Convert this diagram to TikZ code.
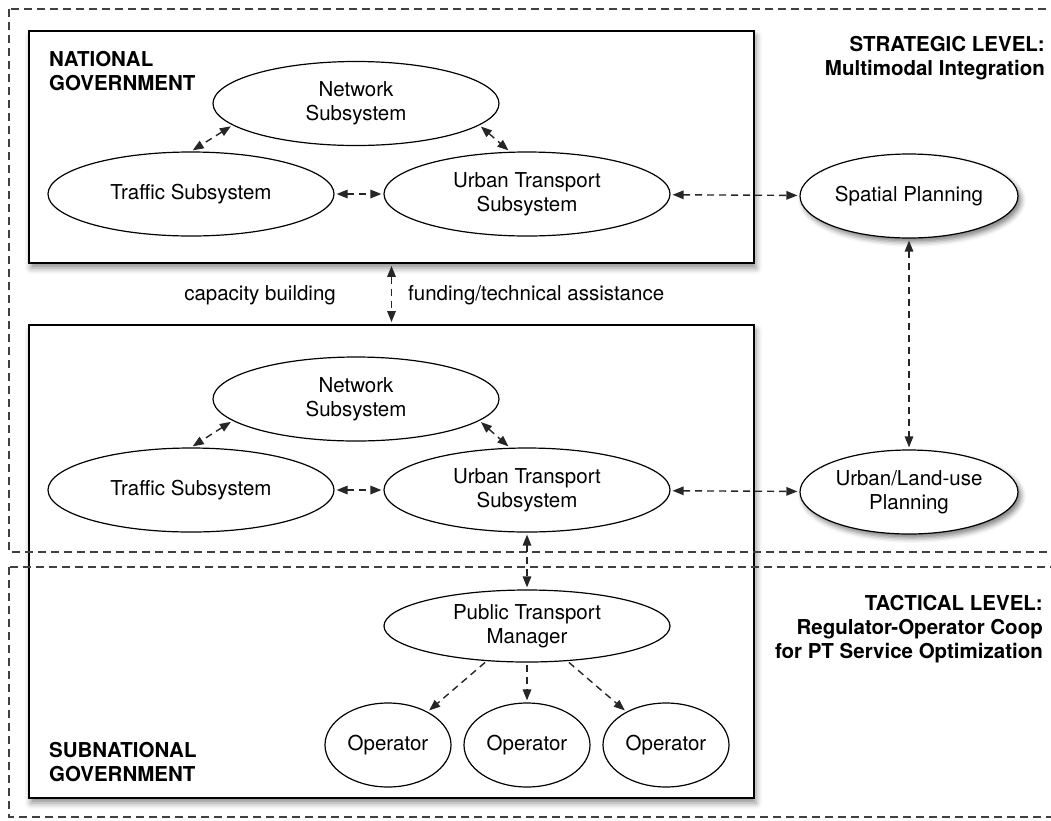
\documentclass[tikz,border=0pt]{standalone}
\usepackage{fontspec}
\setmainfont{TeX Gyre Heros}
\usetikzlibrary{arrows.meta,shapes.geometric,shadows.blur}

\newcommand{\diagsize}{\fontsize{20.5}{24}\selectfont}

\tikzset{
	govbox/.style={draw, line width=1.8pt, fill=white, inner sep=0pt,
		blur shadow={shadow xshift=2pt, shadow yshift=-5pt, shadow blur radius=6pt, shadow opacity=45}},
	levelframe/.style={draw=black!75, line width=1.4pt, dash pattern=on 8pt off 5pt},
	subsys/.style={ellipse, draw, line width=1.2pt, fill=white, inner sep=0pt,
		minimum width=286pt, minimum height=84pt, align=center},
	planning/.style={subsys, minimum width=218pt,
		blur shadow={shadow xshift=3pt, shadow yshift=-4pt, shadow blur radius=5pt, shadow opacity=50}},
	operator/.style={subsys, minimum width=126pt},
	manager/.style={subsys, minimum height=72pt},
	tag/.style={font=\diagsize\bfseries, inner sep=0pt},
	plain/.style={inner sep=0pt},
	link/.style={line width=1.4pt, draw=black!85, dash pattern=on 7pt off 5pt,
		shorten >=2pt, shorten <=2pt},
}

\begin{document}
\begin{tikzpicture}[x=1pt, y=-1pt, font=\diagsize, >={Triangle[length=11pt,width=8.5pt]}]
	\useasboundingbox (0,0) rectangle (1051,820);

	% Government boxes
	\node [govbox, minimum width=725pt, minimum height=232pt] (national)    at (391.5,147)   {};
	\node [govbox, minimum width=725pt, minimum height=473pt] (subnational) at (391.5,561.5) {};

	% Level frames
	\draw [levelframe] (9,9) rectangle (1070,552);
	\draw [levelframe] (9,567) rectangle (1070,817);

	% Nodes {national level}
	\node [subsys]                                   (nnetwork) at (356,103.5) {Network\\Subsystem};
	\node [subsys]                                   (ntraffic) at (191,194)   {Traffic Subsystem};
	\node [subsys, node distance=336pt, right of=ntraffic] (nurban)          {Urban Transport\\Subsystem};
	\node [planning]                                 (spatial)  at (909,196)   {Spatial Planning};

	% Nodes {subnational level}
	\node [subsys]                                   (snetwork) at (356,399)   {Network\\Subsystem};
	\node [subsys]                                   (straffic) at (191,490)   {Traffic Subsystem};
	\node [subsys, node distance=336pt, right of=straffic] (surban)          {Urban Transport\\Subsystem};
	\node [planning, node distance=296pt, below of=spatial] (landuse)        {Urban/Land-use\\Planning};
	\node [manager, node distance=136pt, below of=surban]   (ptman)          {Public Transport\\Manager};
	\node [operator, node distance=119pt, below of=ptman]   (op2)            {Operator};
	\node [operator, node distance=139pt, left of=op2]      (op1)            {Operator};
	\node [operator, node distance=139pt, right of=op2]     (op3)            {Operator};

	% Labels
	\node [tag, anchor=north west, align=left]  (natlabel)  at (49,51)   {NATIONAL\\GOVERNMENT};
	\node [tag, anchor=north west, align=left]  (sublabel)  at (49,742)  {SUBNATIONAL\\GOVERNMENT};
	\node [tag, anchor=north east, align=right] (strategic) at (1045,36) {STRATEGIC LEVEL:\\Multimodal Integration};
	\node [tag, anchor=north east, align=right] (tactical)  at (1043,595) {TACTICAL LEVEL:\\Regulator-Operator Coop\\for PT Service Optimization};
	\node [plain, anchor=base east] (capacity) at (336,300) {capacity building};
	\node [plain, anchor=base west] (funding)  at (408,300) {funding/technical assistance};

	% Paths
	\path [<->] (nnetwork.190) edge [link] (ntraffic.north);
	\path [<->] (nnetwork.350) edge [link] (nurban.112);
	\path [<->] (ntraffic)     edge [link] (nurban);
	\path [<->] (nurban)       edge [link] (spatial);
	\path [<->] (national)     edge [link] (subnational);
	\path [<->] (spatial)      edge [link] (landuse);
	\path [<->] (snetwork.190) edge [link] (straffic.north);
	\path [<->] (snetwork.350) edge [link] (surban.112);
	\path [<->] (straffic)     edge [link] (surban);
	\path [<->] (surban)       edge [link] (landuse);
	\path [<->] (surban)       edge [link] (ptman);
	\path [->]  (ptman.221)    edge [link] (op1.40);
	\path [->]  (ptman.south)  edge [link] (op2.north);
	\path [->]  (ptman.319)    edge [link] (op3.140);
\end{tikzpicture}
\end{document}
